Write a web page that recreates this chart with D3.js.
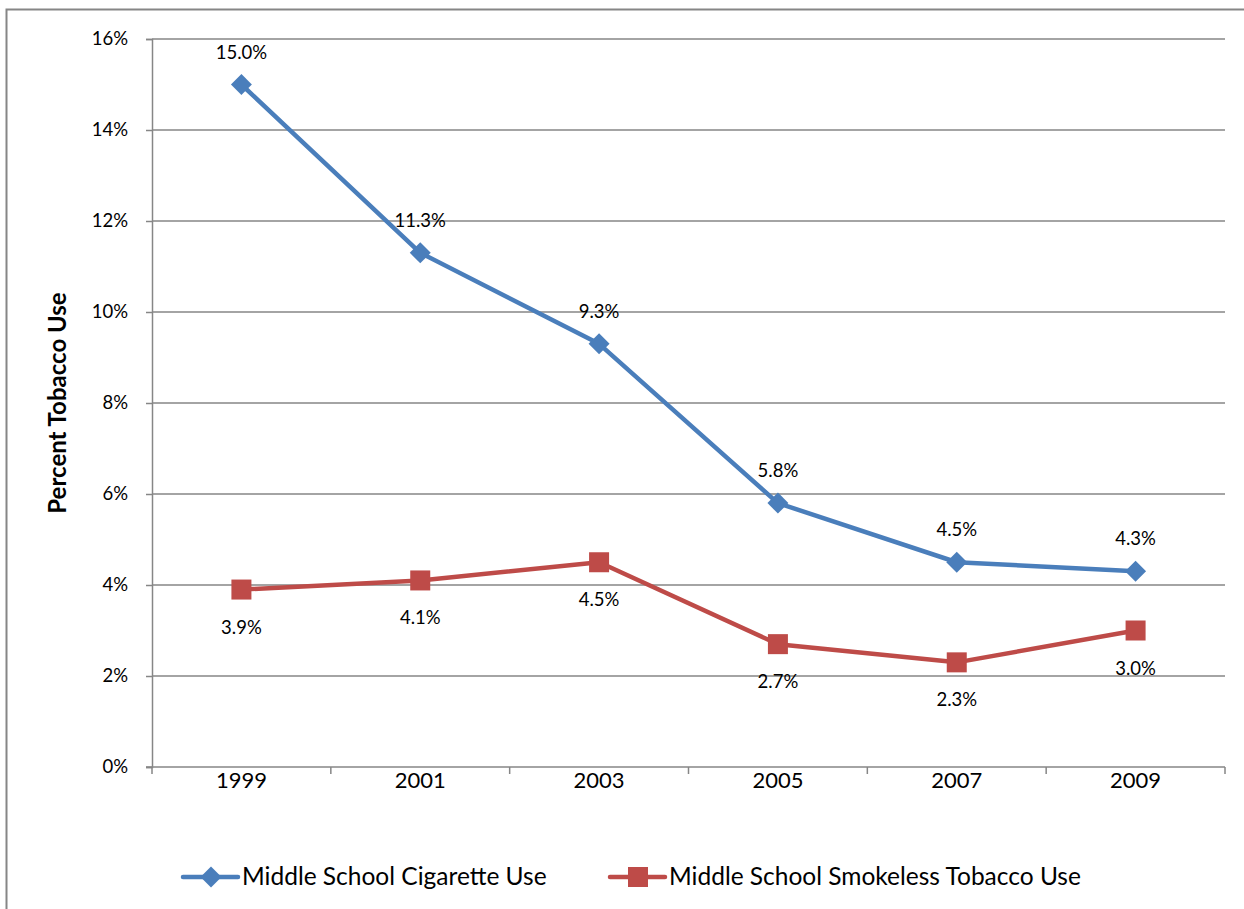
<!DOCTYPE html>
<html><head><meta charset="utf-8">
<script src="https://cdn.jsdelivr.net/npm/d3@7"></script>
<style>html,body{margin:0;padding:0;background:#fff;}svg{display:block;}</style>
</head><body>
<svg id="c" width="1244" height="909"></svg>
<script>
const years = ["1999","2001","2003","2005","2007","2009"];
const cigarette = [15.0, 11.3, 9.3, 5.8, 4.5, 4.3];
const smokeless = [3.9, 4.1, 4.5, 2.7, 2.3, 3.0];
const yTicks = [0, 2, 4, 6, 8, 10, 12, 14, 16];
const seriesNames = ["Middle School Cigarette Use", "Middle School Smokeless Tobacco Use"];

const FONT = "Lato, 'Open Sans', sans-serif";
const svg = d3.select("#c");
svg.append("rect").attr("x",6.5).attr("y",9.5).attr("width",1260).attr("height",920)
  .attr("fill","#fff").attr("stroke","#868686").attr("stroke-width",2);

const L=152, R=1225, T=39, B=767;
const x = d3.scaleBand().domain(years).range([L,R]);
const y = d3.scaleLinear().domain([0,16]).range([B,T]);
const grid="#868686";

// gridlines
svg.append("g").selectAll("line").data(yTicks.filter(d=>d>0)).join("line")
  .attr("x1",L).attr("x2",R).attr("y1",d=>y(d)).attr("y2",d=>y(d))
  .attr("stroke",grid).attr("stroke-width",1.5);

// y axis
const yAxis = svg.append("g").attr("transform",`translate(${L},0)`)
  .call(d3.axisLeft(y).tickValues(yTicks).tickFormat(d=>d+"%").tickSize(6).tickPadding(18));
yAxis.select(".domain").attr("stroke",grid).attr("stroke-width",1.5);
yAxis.selectAll(".tick line").attr("stroke",grid).attr("stroke-width",1.5);
yAxis.selectAll("text").attr("font-family",FONT).attr("font-size",18.5).attr("fill","#000");

// x axis
svg.append("line").attr("x1",L-6).attr("x2",R).attr("y1",B).attr("y2",B).attr("stroke",grid).attr("stroke-width",1.5);
const bounds = years.map(d=>x(d)).concat([R]);
svg.append("g").selectAll("line").data(bounds).join("line")
  .attr("x1",d=>d).attr("x2",d=>d).attr("y1",B).attr("y2",B+7).attr("stroke",grid).attr("stroke-width",1.5);
svg.append("g").selectAll("text").data(years).join("text")
  .attr("x",d=>x(d)+x.bandwidth()/2).attr("y",B+21).attr("text-anchor","middle")
  .attr("font-family",FONT).attr("font-size",22).attr("fill","#000").text(d=>d);

// y label
svg.append("text").attr("transform","translate(66,403) rotate(-90)").attr("text-anchor","middle")
  .attr("font-family",FONT).attr("font-size",24).attr("font-weight","bold").attr("fill","#000").text("Percent Tobacco Use");

const cx = d=>x(d)+x.bandwidth()/2;
const blue="#4A7EBB", red="#BE4B48";
const line = d3.line().x((d,i)=>cx(years[i])).y(d=>y(d));

svg.append("path").datum(cigarette).attr("d",line).attr("fill","none").attr("stroke",blue).attr("stroke-width",4.5).attr("stroke-linejoin","round");
svg.append("path").datum(smokeless).attr("d",line).attr("fill","none").attr("stroke",red).attr("stroke-width",4.5).attr("stroke-linejoin","round");

const diamond = d3.symbol().type(d3.symbolSquare).size(220);
svg.append("g").selectAll("path").data(cigarette).join("path")
  .attr("d",diamond).attr("transform",(d,i)=>`translate(${cx(years[i])},${y(d)}) rotate(45)`).attr("fill",blue);
svg.append("g").selectAll("rect").data(smokeless).join("rect")
  .attr("x",(d,i)=>cx(years[i])-10).attr("y",d=>y(d)-10).attr("width",20).attr("height",20).attr("fill",red);

// data labels
svg.append("g").selectAll("text").data(cigarette).join("text")
  .attr("x",(d,i)=>cx(years[i])).attr("y",d=>y(d)-26).attr("text-anchor","middle")
  .attr("font-family",FONT).attr("font-size",18.5).attr("fill","#000").text(d=>d.toFixed(1)+"%");
svg.append("g").selectAll("text").data(smokeless).join("text")
  .attr("x",(d,i)=>cx(years[i])).attr("y",d=>y(d)+44).attr("text-anchor","middle")
  .attr("font-family",FONT).attr("font-size",18.5).attr("fill","#000").text(d=>d.toFixed(1)+"%");

// legend
const leg = [{x:183,c:blue,m:"d"},{x:610,c:red,m:"s"}];
leg.forEach((l,i)=>{
  const g=svg.append("g");
  g.append("line").attr("x1",l.x).attr("x2",l.x+55).attr("y1",877).attr("y2",877).attr("stroke",l.c).attr("stroke-width",4.5).attr("stroke-linecap","round");
  if(l.m==="d") g.append("path").attr("d",diamond).attr("transform",`translate(${l.x+28},877) rotate(45)`).attr("fill",l.c);
  else g.append("rect").attr("x",l.x+28-10).attr("y",877-10).attr("width",20).attr("height",20).attr("fill",l.c);
  g.append("text").attr("x",l.x+59).attr("y",885).attr("font-family",FONT).attr("font-size",24.5).attr("fill","#000").text(seriesNames[i]);
});
</script>
</body></html>
